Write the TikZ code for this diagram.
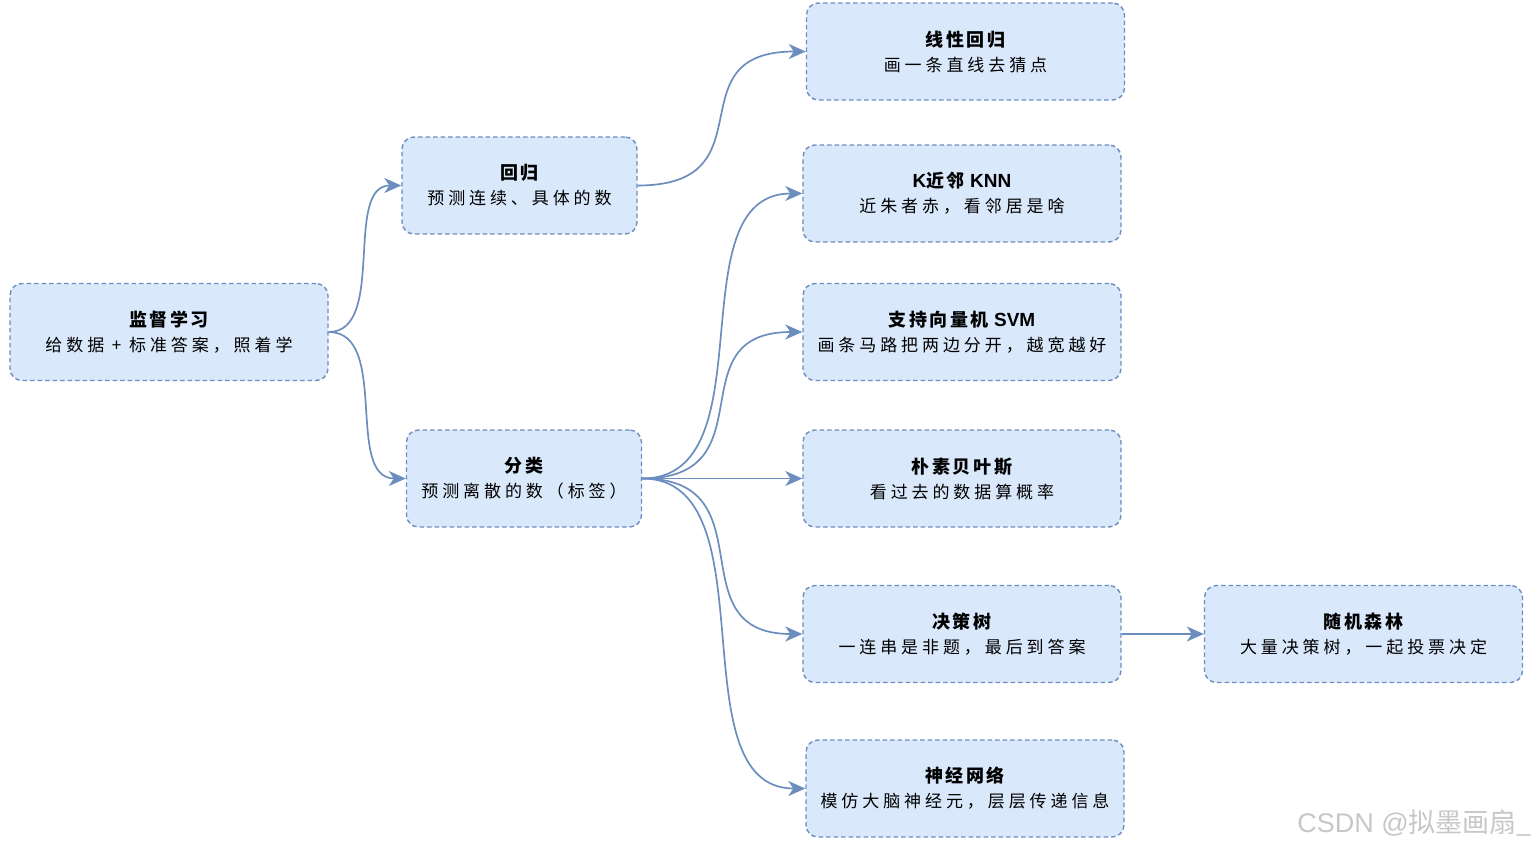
\documentclass[tikz,border=0pt]{standalone}
\usepackage{fontspec}
\usetikzlibrary{arrows.meta,calc}
\newfontfamily\cjk[LetterSpace=23]{Noto Sans CJK SC}
\newfontfamily\cjkt[LetterSpace=14]{Noto Sans CJK SC}
\newfontfamily\lat{Liberation Sans}
\newfontfamily\wm{Noto Sans CJK SC}
\definecolor{boxfill}{HTML}{DAE8FC}
\definecolor{boxline}{HTML}{6C8EBF}
\tikzset{
  box/.style={draw=boxline, fill=boxfill, dash pattern=on 4.5pt off 3pt, line width=1.4pt,
    rounded corners=12pt, minimum width=318pt, minimum height=97pt, align=center,
    inner sep=0pt, font=\cjk\fontsize{17}{25}\selectfont},
  sbox/.style={box, minimum width=235pt},
  link/.style={draw=boxline, line width=1.7pt, -{Stealth[length=17pt,width=15pt,inset=5pt]}},
  curv/.style={to path={let \p1=(\tikztostart), \p2=(\tikztotarget) in
    .. controls ({\x1+0.8*(\x2-\x1)},\y1) and ({\x2-0.8*(\x2-\x1)},\y2) .. (\tikztotarget) \tikztonodes}}
}
\newcommand{\tl}[1]{{\cjkt\bfseries\fontsize{18}{25}\selectfont #1}}
\newcommand{\tlat}[1]{{\lat\bfseries\fontsize{19}{25}\selectfont #1}}
\begin{document}
\begin{tikzpicture}[x=1pt,y=-1pt]
\useasboundingbox (0,0) rectangle (1538,849);
\node[box] (sup) at (169,332) {\tl{监督学习}\\给数据 + 标准答案，照着学};
\node[sbox] (reg) at (519.5,185.5) {\tl{回归}\\预测连续、具体的数};
\node[sbox] (cls) at (524,478.5) {\tl{分类}\\预测离散的数（标签）};
\node[box] (lin) at (965.5,51.5) {\tl{线性回归}\\画一条直线去猜点};
\node[box] (knn) at (962,193.5) {\tlat{K}\tl{近邻}\tlat{ KNN}\\近朱者赤，看邻居是啥};
\node[box] (svm) at (962,332) {\tl{支持向量机}\tlat{ SVM}\\画条马路把两边分开，越宽越好};
\node[box] (nb) at (962,478.5) {\tl{朴素贝叶斯}\\看过去的数据算概率};
\node[box] (dt) at (962,634) {\tl{决策树}\\一连串是非题，最后到答案};
\node[box] (rf) at (1363.5,634) {\tl{随机森林}\\大量决策树，一起投票决定};
\node[box] (nn) at (965,788.5) {\tl{神经网络}\\模仿大脑神经元，层层传递信息};
\node[text=black!22, font=\wm\fontsize{27}{30}\selectfont, anchor=east, inner sep=0pt] (wmk) at (1532,823) {{\lat CSDN @}拟墨画扇\_};
\draw[link] (sup.east) to[curv] (reg.west);
\draw[link] (sup.east) to[curv] (cls.west);
\draw[link] (reg.east) to[curv] (lin.west);
\draw[link] (cls.east) to[curv] (knn.west);
\draw[link] (cls.east) to[curv] (svm.west);
\draw[link] (cls.east) -- (nb.west);
\draw[link] (cls.east) to[curv] (dt.west);
\draw[link] (cls.east) to[curv] (nn.west);
\draw[link] (dt.east) -- (rf.west);
\end{tikzpicture}
\end{document}
